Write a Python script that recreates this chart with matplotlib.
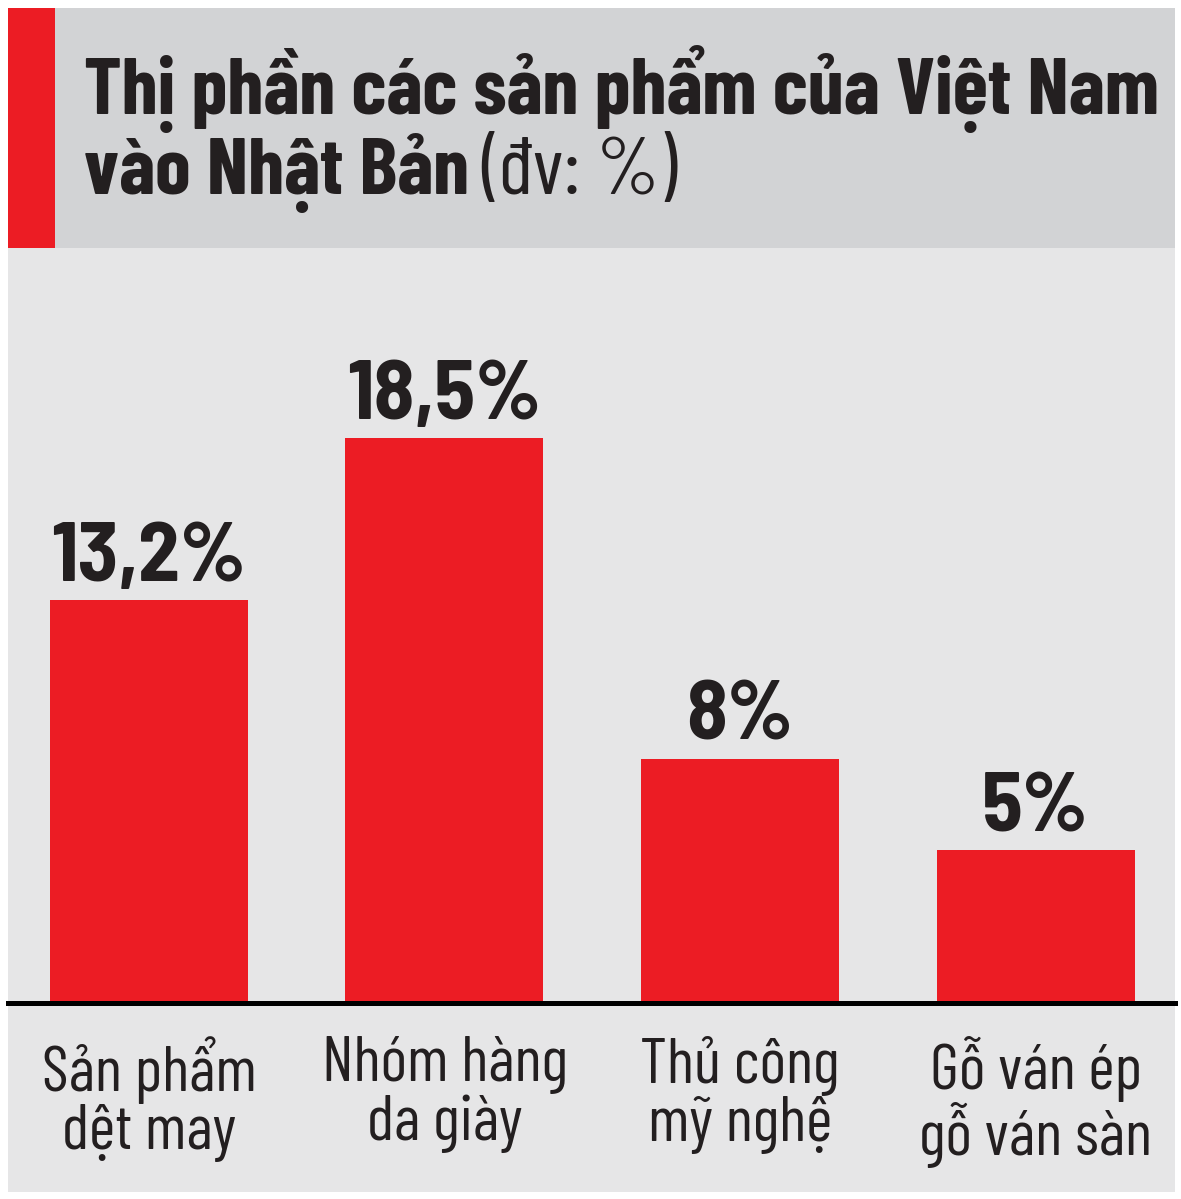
import matplotlib.pyplot as plt
from matplotlib.patches import Rectangle

# dữ liệu
categories = ['Sản phẩm\ndệt may', 'Nhóm hàng\nda giày', 'Thủ công\nmỹ nghệ', 'Gỗ ván ép\ngỗ ván sàn']
values = [13.2, 18.5, 8, 5]
value_labels = ['13,2%', '18,5%', '8%', '5%']

RED = '#ec1c24'
HEAD_BG = '#d2d3d5'
BODY_BG = '#e6e6e7'
INK = '#231f20'
TITLE_FONT = ['Barlow Condensed', 'DejaVu Sans']
FONT = ['Barlow Semi Condensed', 'DejaVu Sans']

W, H = 1181, 1199
fig = plt.figure(figsize=(W / 100, H / 100), dpi=100)
fig.patch.set_facecolor('white')

def fx(px):
    return px / W

def fy(py):
    return 1 - py / H

# nền tiêu đề và nền biểu đồ
fig.add_artist(Rectangle((fx(8), fy(248)), fx(1175 - 8), 240 / H, transform=fig.transFigure,
                         facecolor=HEAD_BG, edgecolor='none', zorder=0))
fig.add_artist(Rectangle((fx(8), fy(248)), fx(55 - 8), 240 / H, transform=fig.transFigure,
                         facecolor=RED, edgecolor='none', zorder=1))
fig.add_artist(Rectangle((fx(8), fy(1192)), fx(1175 - 8), (1192 - 248) / H, transform=fig.transFigure,
                         facecolor=BODY_BG, edgecolor='none', zorder=0))

# tiêu đề
fig.text(fx(84), fy(114), 'Thị phần các sản phẩm của Việt Nam', family=TITLE_FONT, weight='bold',
         fontsize=58, color=INK, va='baseline', ha='left')
t2 = fig.text(fx(84), fy(194), 'vào Nhật Bản', family=TITLE_FONT, weight='bold',
              fontsize=58, color=INK, va='baseline', ha='left')
fig.canvas.draw()
bb = t2.get_window_extent()
fig.text(bb.x1 / W + fx(12), fy(194), '(đv: %)', family=TITLE_FONT, weight='normal',
         fontsize=58, color=INK, va='baseline', ha='left')

# biểu đồ cột
base_px = 1003
top_px = 260
ax = fig.add_axes([fx(8), fy(base_px), fx(1175 - 8), (base_px - top_px) / H])
ax.set_facecolor('none')
x = list(range(len(values)))
ax.bar(x, values, width=0.67, color=RED, zorder=2)
ax.set_xlim(-0.477, 3.472)
ax.set_ylim(0, 18.5 * (base_px - top_px) / (base_px - 438))

for xi, v, lab in zip(x, values, value_labels):
    ax.text(xi, v + 0.1, lab, ha='center', va='bottom', family=FONT, weight='bold',
            fontsize=60, color=INK)

for s in ['top', 'left', 'right']:
    ax.spines[s].set_visible(False)
ax.spines['bottom'].set_linewidth(3.6)
ax.spines['bottom'].set_color('#000000')
ax.set_yticks([])
ax.set_xticks(x)
ax.set_xticklabels(categories, family=TITLE_FONT, fontsize=46, color=INK, linespacing=1.0)
ax.tick_params(axis='x', length=0, pad=24)

fig.savefig('out.png', dpi=100, facecolor='white')
